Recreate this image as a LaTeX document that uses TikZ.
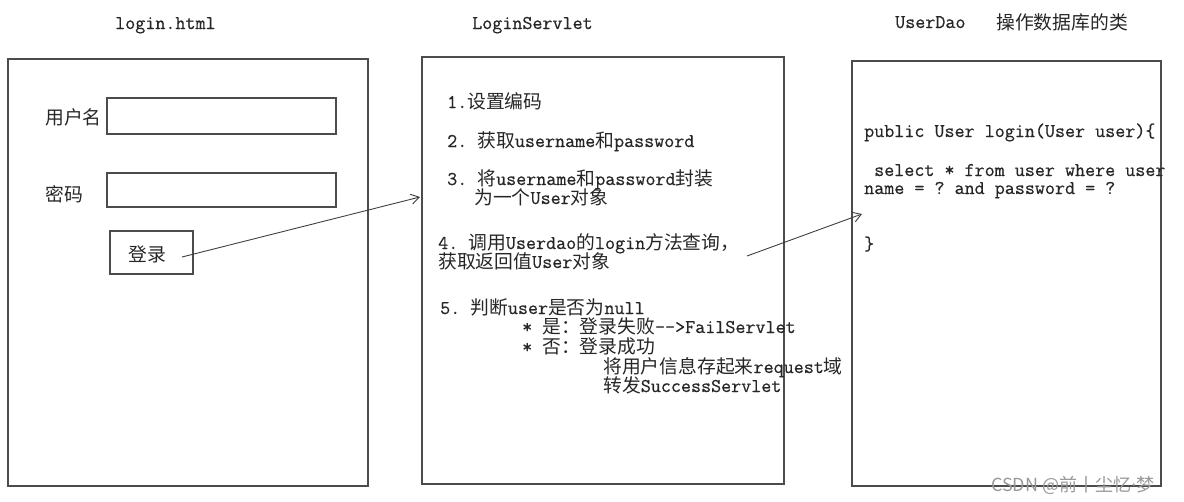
\documentclass[tikz,border=0pt]{standalone}
\usepackage{fontspec}
\setmonofont[FakeBold=0.6]{Latin Modern Mono}
\newfontfamily\cjkf{Noto Sans CJK SC}
\newfontfamily\latf{Noto Sans}
\usetikzlibrary{arrows.meta}
\newcommand\zh[1]{{\cjkf\fontsize{18.8}{20}\selectfont #1}}
\tikzset{
  box/.style={draw=black!70, line width=1.3pt, inner sep=0pt, outer sep=0pt, anchor=north west},
  txt/.style={anchor=base west, inner sep=0pt, font=\fontsize{19.5}{20}\ttfamily, text=black!85},
  conn/.style={draw=black!75, line width=0.9pt, -{Straight Barb[length=8pt,width=10pt]}},
}
\begin{document}
\begin{tikzpicture}[x=1pt,y=-1pt]
\useasboundingbox (0,0) rectangle (1184,501);
% boxes
\node[box, minimum width=360pt, minimum height=427pt] (html) at (8,59) {};
\node[box, minimum width=229pt, minimum height=36pt] (userfield) at (107,98) {};
\node[box, minimum width=229pt, minimum height=34pt] (pwfield) at (107,173) {};
\node[box, minimum width=83pt, minimum height=43pt] (btn) at (110,231) {};
\node[box, minimum width=362pt, minimum height=427pt] (servlet) at (422,57) {};
\node[box, minimum width=309pt, minimum height=425pt] (dao) at (852,61) {};
% titles
\node[txt] (t1) at (115,29) {login.html};
\node[txt] (t2) at (472,29) {LoginServlet};
\node[txt] (t3) at (895,28) {UserDao};
\node[txt] (t3b) at (996,29) {\zh{操作数据库的类}};
% left labels
\node[txt] (l1) at (45,124) {\zh{用户名}};
\node[txt] (l2) at (45,201) {\zh{密码}};
\node[txt] (l3) at (128,261) {\zh{登录}};
% middle text
\node[txt] (m1) at (447,108) {1.\zh{设置编码}};
\node[txt] (m2) at (447,147) {2. \zh{获取}username\zh{和}password};
\node[txt] (m3a) at (447,185) {3. \zh{将}username\zh{和}password\zh{封装}};
\node[txt] (m3b) at (474,204) {\zh{为一个}User\zh{对象}};
\node[txt] (m4a) at (438,249) {4. \zh{调用}Userdao\zh{的}login\zh{方法查询，}};
\node[txt] (m4b) at (438,268) {\zh{获取返回值}User\zh{对象}};
\node[txt] (m5) at (440,314) {5. \zh{判断}user\zh{是否为}null};
\node[txt] (m5a) at (522,333) {* \zh{是：登录失败}-{}-{}>FailServlet};
\node[txt] (m5b) at (522,353) {* \zh{否：登录成功}};
\node[txt] (m5c) at (603,373) {\zh{将用户信息存起来}request\zh{域}};
\node[txt] (m5d) at (603,392) {\zh{转发}SuccessServlet};
% right text
\node[txt] (r1) at (864,137) {public User login(User user)\{};
\node[txt] (r2) at (874,176) {select * from user where user};
\node[txt] (r3) at (864,194) {name = ? and password = ?};
\node[txt] (r4) at (864,250) {\}};
% connectors
\coordinate (a1s) at (182,257);
\coordinate (a1e) at (420,197);
\coordinate (a2s) at (747,256);
\coordinate (a2e) at (862,214);
\draw[conn] (a1s) -- (a1e);
\draw[conn] (a2s) -- (a2e);
% watermark
\node[anchor=base west, inner sep=0pt, font=\cjkf\fontsize{18}{19}\selectfont, text=black!40] (wm) at (991,491) {CSDN @前丨尘忆{\latf ·}梦};
\end{tikzpicture}
\end{document}
